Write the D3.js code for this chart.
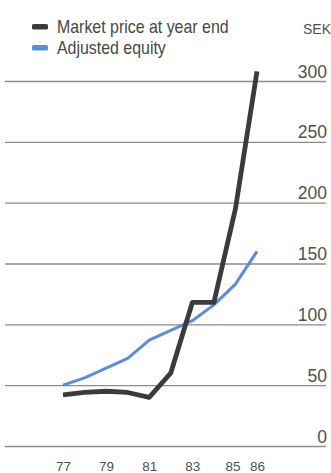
<!DOCTYPE html>
<html>
<head>
<meta charset="utf-8">
<script src="https://cdn.jsdelivr.net/npm/d3@7"></script>
<style>
  html, body { margin: 0; padding: 0; background: #fff; }
  svg { display: block; }
  text { font-family: "Liberation Sans", Arial, sans-serif; fill: #474747; }
</style>
</head>
<body>
<svg id="chart" width="331" height="473"></svg>
<script>
// Share data, SEK per share
const years = [77, 78, 79, 80, 81, 82, 83, 84, 85, 86];
const marketPrice = [42, 44, 45, 44, 40, 60, 118, 118, 195, 308];
const adjustedEquity = [50, 56, 64, 72, 87, 95, 103, 116, 133, 160];
const yTicks = [0, 50, 100, 150, 200, 250, 300];
const xTickYears = [77, 79, 81, 83, 85, 86];
const seriesNames = ["Market price at year end", "Adjusted equity"];
const seriesColors = ["#3b3a3d", "#5b8dd8"];
const unitLabel = "SEK";

const svg = d3.select("#chart");

const x = d3.scaleLinear().domain([77, 86]).range([63, 257]);
const y = d3.scaleLinear().domain([0, 300]).range([446, 81]);

// Horizontal gridlines with value labels at the right end
const yAxis = d3.axisRight(y)
  .tickValues(yTicks)
  .tickSize(321)
  .tickFormat(d3.format("d"));

const gy = svg.append("g")
  .attr("transform", "translate(5,0)")
  .call(yAxis);
gy.select(".domain").remove();
gy.selectAll(".tick line")
  .attr("stroke", "#8c8c8c")
  .attr("stroke-width", 1.3);
gy.selectAll(".tick text")
  .attr("x", 322)
  .attr("y", -4)
  .attr("dy", 0)
  .attr("text-anchor", "end")
  .style("font-size", "17.5px")
  .style("fill", "#505050");

// Year labels along the bottom
const xAxis = d3.axisBottom(x)
  .tickValues(xTickYears)
  .tickSize(0)
  .tickFormat(d3.format("d"));
const gx = svg.append("g")
  .attr("transform", "translate(0,459)")
  .call(xAxis);
gx.select(".domain").remove();
gx.selectAll(".tick text")
  .attr("dy", 0)
  .attr("y", 12)
  .style("font-size", "13.5px")
  .style("fill", "#505050");
// 85 and 86 sit close together; nudge them apart a little
gx.selectAll(".tick text")
  .filter(d => d === 85).attr("dx", -3);

// Unit label
svg.append("text")
  .attr("x", 331)
  .attr("y", 34)
  .attr("text-anchor", "end")
  .style("font-size", "14px")
  .style("fill", "#505050")
  .text(unitLabel);

// Series lines
const line = d3.line()
  .x((d, i) => x(years[i]))
  .y(d => y(d));

svg.append("path")
  .datum(adjustedEquity)
  .attr("fill", "none")
  .attr("stroke", seriesColors[1])
  .attr("stroke-width", 3)
  .attr("stroke-linejoin", "round")
  .attr("d", line);

svg.append("path")
  .datum(marketPrice)
  .attr("fill", "none")
  .attr("stroke", seriesColors[0])
  .attr("stroke-width", 4.8)
  .attr("stroke-linejoin", "round")
  .attr("d", line);

// Legend (condensed type)
const legend = svg.append("g");
seriesNames.forEach((name, i) => {
  const ly = 27 + i * 21;
  legend.append("rect")
    .attr("x", 32).attr("y", ly - 3)
    .attr("width", 16).attr("height", 5.5)
    .attr("rx", 1.5)
    .attr("fill", seriesColors[i]);
  legend.append("text")
    .attr("transform", `translate(57,${ly + 6}) scale(0.91,1)`)
    .style("font-size", "17.5px")
    .text(name);
});
</script>
</body>
</html>
